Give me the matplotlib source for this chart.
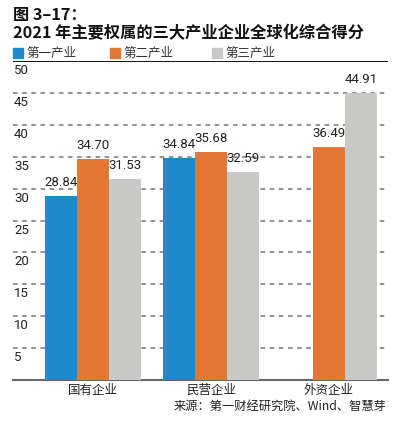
import matplotlib
matplotlib.use("Agg")
import matplotlib.pyplot as plt
import numpy as np

plt.rcParams['font.family'] = ['Noto Sans CJK SC', 'DejaVu Sans']

categories = ["国有企业", "民营企业", "外资企业"]
series_names = ["第一产业", "第二产业", "第三产业"]
primary = [28.84, 34.84, np.nan]
secondary = [34.70, 35.68, 36.49]
tertiary = [31.53, 32.59, 44.91]
yticks = [5, 10, 15, 20, 25, 30, 35, 40, 45, 50]
colors = ["#1E8CCB", "#E27834", "#C8C8C7"]

W, H = 402, 421
fig = plt.figure(figsize=(W / 100, H / 100), dpi=100)
ax = fig.add_axes([13 / W, 41 / H, 375 / W, 319 / H])

x = np.arange(len(categories))
bw = 0.271
series = [primary, secondary, tertiary]
num_font = ['Roboto', 'DejaVu Sans']
for i, (vals, c) in enumerate(zip(series, colors)):
    pos = x + (i - 1) * bw
    ax.bar(pos, vals, width=bw, color=c, zorder=3, linewidth=0)
    for p, v in zip(pos, vals):
        if np.isnan(v):
            continue
        ax.annotate(f"{v:.2f}", (p, v), xytext=(0, 7), textcoords='offset pixels',
                    ha='center', va='bottom', fontsize=9.5, color='#222222',
                    family=num_font, zorder=4)

ax.set_xlim(-0.678, 2.5)
ax.set_ylim(0, 50)

for t in yticks[:-1]:
    ax.axhline(t, color='#777777', lw=1.1, ls=(0, (3, 3)), zorder=1)
ax.axhline(50, color='black', lw=1.3, zorder=2)
for t in yticks:
    ax.annotate(str(t), (-0.678, t), xytext=(1, -3), textcoords='offset pixels',
                ha='left', va='top', fontsize=9.5, color='#222222', family=num_font)

for s in ['top', 'right', 'left']:
    ax.spines[s].set_visible(False)
ax.spines['bottom'].set_color('#666666')
ax.spines['bottom'].set_linewidth(1.5)
ax.set_yticks([])
ax.set_xticks(x)
ax.set_xticklabels(categories, fontsize=9, color='#222222')
ax.tick_params(axis='x', length=0, pad=3)

# legend
leg_x = [13, 110, 212]
for lx, name, c in zip(leg_x, series_names, colors):
    fig.patches.append(plt.Rectangle((lx / W, (H - 58) / H), 10 / W, 10 / H,
                                     transform=fig.transFigure, color=c))
    fig.text((lx + 13) / W, (H - 53) / H, name, ha='left', va='center',
             fontsize=9, color='#333333')

fig.text(13 / W, (H - 15) / H, "图 3–17：", ha='left', va='center',
         fontsize=11.7, fontweight='bold', color='#111111')
fig.text(13 / W, (H - 33) / H, "2021 年主要权属的三大产业企业全球化综合得分",
         ha='left', va='center', fontsize=11.7, fontweight='bold', color='#111111')
fig.text(387 / W, (H - 406) / H, "来源：第一财经研究院、Wind、智慧芽",
         ha='right', va='center', fontsize=8.8, color='#222222')

fig.savefig("out.png", dpi=100)
